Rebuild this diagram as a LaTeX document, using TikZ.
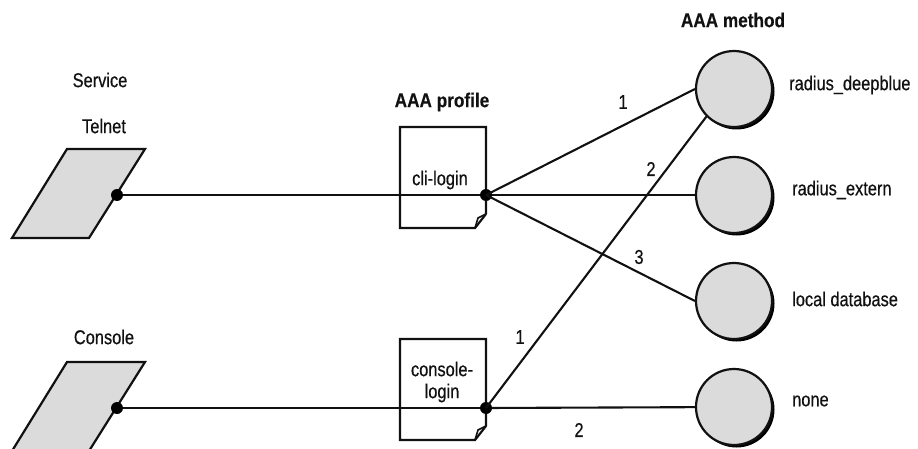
\documentclass[tikz,border=0pt]{standalone}
\usepackage{fontspec}
\setmainfont{Liberation Sans}[FakeStretch=0.82, FakeBold=0.5, BoldFeatures={FakeStretch=0.86, FakeBold=0.3}]
\usetikzlibrary{shadows}
\definecolor{fillgray}{HTML}{DADBDA}
\definecolor{ink}{HTML}{111111}
\tikzset{
  lbl/.style={font=\fontsize{20}{22}\selectfont, inner sep=0pt, text=ink},
  hdr/.style={font=\fontsize{20}{22}\selectfont\bfseries, inner sep=0pt, text=ink},
  method/.style={circle, draw=ink, line width=2.2pt, fill=fillgray, minimum size=76pt, inner sep=0pt,
    drop shadow={shadow xshift=2.5pt, shadow yshift=-2.5pt, fill=black, opacity=1}},
  dotnode/.style={circle, fill=black, minimum size=12pt, inner sep=0pt},
  conn/.style={line width=2.1pt, draw=ink},
  shapeline/.style={line width=2.2pt, line join=miter, draw=ink},
}
\begin{document}
\begin{tikzpicture}[x=1pt, y=-1pt]
\useasboundingbox (0,0) rectangle (918,449);

% parallelograms (services)
\draw[shapeline, fill=fillgray] (67,149) -- (145,149) -- (89,238) -- (12,238) -- cycle;
\draw[shapeline, fill=fillgray] (67,362) -- (145,362) -- (89,451) -- (12,451) -- cycle;

% profile documents
\draw[shapeline] (486,214) -- (486,127) -- (400,127) -- (400,228) -- (475,228) -- (486,214);
\draw[shapeline, line width=1.6pt] (486,214) -- (478,218) -- (475,228);
\draw[shapeline] (486,426) -- (486,339) -- (400,339) -- (400,440) -- (475,440) -- (486,426);
\draw[shapeline, line width=1.6pt] (486,426) -- (478,430) -- (475,440);

% method circles
\node[method] (m1) at (734,89) {};
\node[method] (m2) at (734,195) {};
\node[method] (m3) at (734,301) {};
\node[method] (m4) at (734,407) {};

% dots
\node[dotnode] (tdot) at (117,195) {};
\node[dotnode] (cdot) at (117,408) {};
\node[dotnode] (pl) at (486,195) {};
\node[dotnode] (pc) at (486,408) {};

% connectors
\draw[conn] (tdot) -- (pl);
\draw[conn] (cdot) -- (pc);
\draw[conn] (pl.center) -- (m1.west);
\draw[conn] (pl) -- (m2);
\draw[conn] (pl.center) -- (m3.west);
\draw[conn] (pc.center) -- (m1.south west);
\draw[conn] (pc) -- (m4);

% texts
\node[lbl] (service) at (100,80) {Service};
\node[lbl] (telnet) at (104,126) {Telnet};
\node[lbl] (console) at (104,337) {Console};
\node[hdr] (aaaprof) at (442,102) {AAA profile};
\node[hdr] (aaameth) at (733,20) {AAA method};
\node[lbl] (clilogin) at (440,180) {cli-login};
\node[lbl, align=center] (conslogin) at (442,382) {console-\\login};

\node[lbl, anchor=west] (t1) at (789,85) {radius\_deepblue};
\node[lbl, anchor=west] (t2) at (792,190) {radius\_extern};
\node[lbl, anchor=west] (t3) at (792,299) {local database};
\node[lbl, anchor=west] (t4) at (792,401) {none};

% edge labels
\node[lbl] (e1) at (623,102) {1};
\node[lbl] (e2) at (651,169) {2};
\node[lbl] (e3) at (639,257) {3};
\node[lbl] (e4) at (520,337) {1};
\node[lbl] (e5) at (579,430) {2};
\end{tikzpicture}
\end{document}
